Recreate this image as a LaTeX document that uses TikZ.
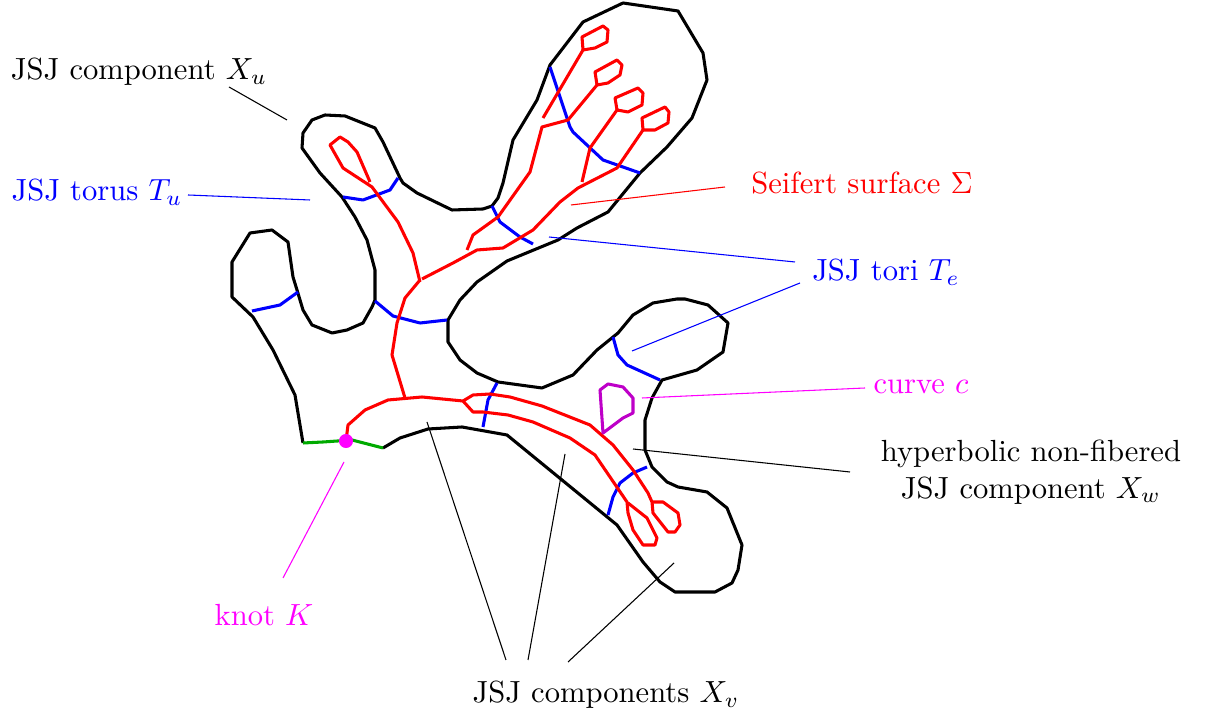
\documentclass[tikz,border=0pt]{standalone}
\definecolor{knotgreen}{RGB}{0,170,0}
\definecolor{knotmag}{RGB}{255,0,255}
\definecolor{curvepurple}{RGB}{190,0,200}
\begin{document}
\begin{tikzpicture}[x=0.327pt, y=-0.327pt,
  outline/.style = {draw, line width=1pt, line join=round},
  torus/.style = {draw=blue, line width=1pt, line join=round},
  surf/.style = {draw=red, line width=1pt, line join=round},
  lead/.style = {line width=0.35pt},
  lbl/.style = {inner sep=1pt, align=center}]
\useasboundingbox (0,0) rectangle (1209,723);

% the 3-manifold
\draw[outline] (303,443) -- (295,395) -- (273,350) -- (253,317) -- (232,297) -- (232,262)
  -- (250,233) -- (272,230) -- (288,242) -- (293,277) -- (297,290) -- (303,310) -- (312,325)
  -- (332,333) -- (347,330) -- (363,323) -- (372,307) -- (375,300) -- (375,270) -- (367,240)
  -- (355,217) -- (342,197) -- (320,173) -- (302,148) -- (303,133) -- (312,120) -- (325,115)
  -- (345,116) -- (375,128) -- (383,142) -- (400,178) -- (403,183) -- (417,193) -- (452,210)
  -- (483,209) -- (492,206) -- (498,198) -- (503,183) -- (513,140) -- (537,100) -- (550,65)
  -- (583,22) -- (623,3) -- (678,11) -- (703,53) -- (707,80) -- (692,118) -- (667,147)
  -- (640,173) -- (608,212) -- (577,228) -- (558,240) -- (507,261) -- (477,282) -- (460,300)
  -- (448,320) -- (448,342) -- (460,360) -- (477,373) -- (498,382) -- (542,388) -- (573,375)
  -- (597,350) -- (618,333) -- (633,315) -- (653,303) -- (677,299) -- (685,299) -- (708,305)
  -- (728,323) -- (723,352) -- (697,370) -- (662,380) -- (652,398) -- (645,420) -- (645,450)
  -- (652,467) -- (667,482) -- (678,487) -- (707,492) -- (727,508) -- (742,545) -- (738,570)
  -- (732,583) -- (715,592) -- (675,592) -- (660,582) -- (643,562) -- (617,525) -- (507,435)
  -- (462,427) -- (428,429) -- (400,438) -- (383,448);
\draw[draw=knotgreen, line width=1pt, line join=round] (383,448) -- (352,440) -- (323,442) -- (303,443);

% JSJ tori
\draw[torus] (252,311) -- (280,305) -- (298,292);
\draw[torus] (343,197) -- (363,200) -- (390,190) -- (398,178);
\draw[torus] (375,301) -- (393,316) -- (420,323) -- (447,320);
\draw[torus] (492,206) -- (500,222) -- (520,237) -- (533,244);
\draw[torus] (550,67) -- (570,127) -- (573,132) -- (603,160) -- (640,173);
\draw[torus] (497,383) -- (488,400) -- (483,427);
\draw[torus] (613,337) -- (618,355) -- (627,365) -- (660,380);
\draw[torus] (647,467) -- (633,473) -- (620,483) -- (613,497) -- (608,515);

% Seifert surface
\draw[surf] (370,182) -- (357,152) -- (348,142) -- (340,137) -- (330,145) -- (343,168)
  -- (372,187) -- (398,222) -- (413,253) -- (420,282);
\draw[surf] (420,280) -- (405,298) -- (397,323) -- (392,355) -- (405,398);
\draw[surf] (422,279) -- (453,263) -- (477,250) -- (503,248) -- (533,230) -- (560,202)
  -- (578,188) -- (617,168) -- (643,130);
\draw[surf] (467,250) -- (473,235) -- (498,217) -- (530,172) -- (542,127) -- (568,120) -- (597,85);
\draw[surf] (543,118) -- (583,50);
\draw[surf] (582,182) -- (590,148) -- (617,110);
\draw[surf] (583,50) -- (582,37) -- (603,26) -- (608,30) -- (607,42) -- (595,48) -- cycle;
\draw[surf] (597,85) -- (595,72) -- (617,60) -- (622,65) -- (620,75) -- (608,83) -- cycle;
\draw[surf] (617,110) -- (615,98) -- (638,88) -- (643,93) -- (642,105) -- (628,112) -- cycle;
\draw[surf] (643,130) -- (642,118) -- (665,107) -- (669,112) -- (668,123) -- (655,130) -- cycle;
\draw[surf] (346,441) -- (348,425) -- (365,410) -- (388,400) -- (422,397) -- (463,401)
  -- (473,395) -- (490,394) -- (510,397) -- (542,406) -- (590,425) -- (613,445) -- (633,470)
  -- (648,493) -- (652,502) -- (653,513) -- (668,532) -- (675,532) -- (680,525) -- (678,513)
  -- (663,502) -- (652,502);
\draw[surf] (463,401) -- (473,412) -- (483,412) -- (508,415) -- (533,422) -- (570,438)
  -- (595,455) -- (610,477) -- (627,502) -- (628,513) -- (633,530) -- (643,545) -- (655,545)
  -- (657,538) -- (647,518) -- (628,503);

% curve c and knot K
\draw[curvepurple, line width=1pt, line join=round] (603,433) -- (600,390) -- (608,384)
  -- (623,387) -- (633,398) -- (633,413) -- (623,418) -- cycle;
\node[circle, fill=knotmag, inner sep=0pt, minimum size=4.6pt] (knot) at (346,441) {};

% labels
\node[lbl] (xu) at (139,72) {JSJ component $X_u$};
\node[lbl, blue] (tu) at (97,192) {JSJ torus $T_u$};
\node[lbl, red] (seifert) at (862,183) {Seifert surface $\Sigma$};
\node[lbl, blue] (te) at (886,272) {JSJ tori $T_e$};
\node[lbl, knotmag] (curvec) at (921,387) {curve $c$};
\node[lbl] (xw) at (1031,472) {hyperbolic non-fibered\\JSJ component $X_w$};
\node[lbl, knotmag] (knotK) at (264,615) {knot $K$};
\node[lbl] (xv) at (606,695) {JSJ components $X_v$};

\coordinate (xu-a) at (229,87);   \coordinate (xu-b) at (287,120);
\coordinate (tu-a) at (188,195);  \coordinate (tu-b) at (310,200);
\coordinate (sf-a) at (725,187);  \coordinate (sf-b) at (571,205);
\coordinate (te-a) at (795,262);  \coordinate (te-b) at (549,237);
\coordinate (te-c) at (800,283);  \coordinate (te-d) at (632,351);
\coordinate (c-a) at (865,388);   \coordinate (c-b) at (642,398);
\coordinate (xw-a) at (850,472);  \coordinate (xw-b) at (633,449);
\coordinate (k-a) at (283,578);   \coordinate (k-b) at (344,462);
\coordinate (xv-a) at (506,660);  \coordinate (xv-b) at (427,422);
\coordinate (xv-c) at (528,660);  \coordinate (xv-d) at (565,454);
\coordinate (xv-e) at (568,662);  \coordinate (xv-f) at (674,563);

\draw[lead] (xu-a) -- (xu-b);
\draw[lead, blue] (tu-a) -- (tu-b);
\draw[lead, red] (sf-a) -- (sf-b);
\draw[lead, blue] (te-a) -- (te-b);
\draw[lead, blue] (te-c) -- (te-d);
\draw[lead, knotmag] (c-a) -- (c-b);
\draw[lead] (xw-a) -- (xw-b);
\draw[lead, knotmag] (k-a) -- (k-b);
\draw[lead] (xv-a) -- (xv-b);
\draw[lead] (xv-c) -- (xv-d);
\draw[lead] (xv-e) -- (xv-f);
\end{tikzpicture}
\end{document}
